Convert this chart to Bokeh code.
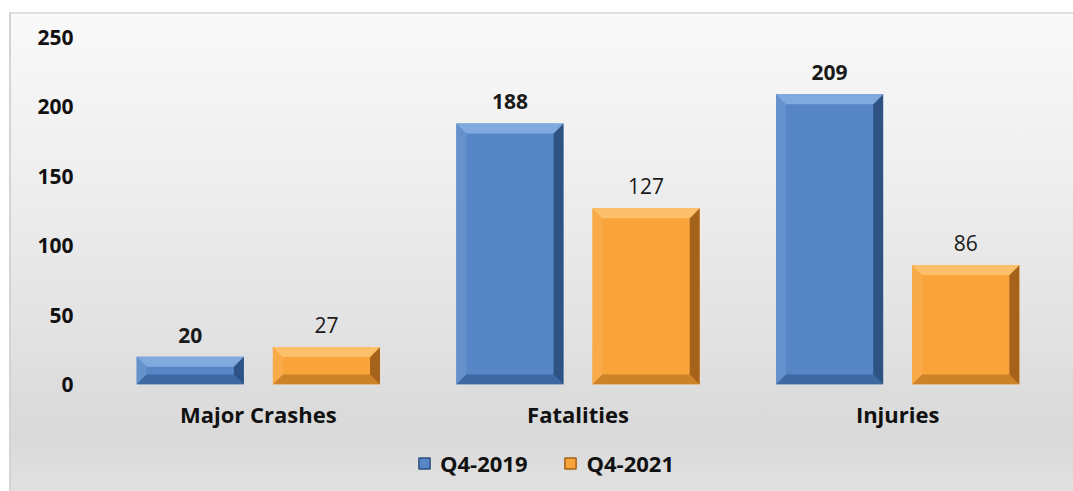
from bokeh.plotting import figure
from bokeh.layouts import column
from bokeh.models import Range1d, FixedTicker, Legend, LegendItem, ColumnDataSource
from bokeh.core.properties import value
from bokeh.embed import file_html
from bokeh.resources import INLINE

# ---- data ----
categories = ["Major Crashes", "Fatalities", "Injuries"]
series_names = ["Q4-2019", "Q4-2021"]
q4_2019 = [20, 188, 209]
q4_2021 = [27, 127, 86]
y_ticks = [0, 50, 100, 150, 200, 250]

# ---- style ----
FONT = "Open Sans"
BAR_W = 0.335
OFFSET = 0.213
BX = 0.031   # bevel width in x units
BY = 7.2     # bevel height in y units
styles = {
    "Q4-2019": dict(face="#5686c6", top="#80a9de", left="#6591cc", right="#2e5283", bottom="#3d68a1", label_weight="bold"),
    "Q4-2021": dict(face="#f9a33b", top="#fcc06b", left="#faab49", right="#a4621a", bottom="#cc8229", label_weight="normal"),
}

W = 1073
p = figure(width=W, height=440, output_backend="svg", toolbar_location=None,
           x_range=Range1d(-0.5, 2.5), y_range=Range1d(0, 265),
           min_border_left=98, min_border_right=16, min_border_top=16, min_border_bottom=56)
p.background_fill_color = None
p.border_fill_color = None
p.outline_line_color = None
p.grid.grid_line_color = None

xs = [0, 1, 2]
for k, (name, vals) in enumerate(zip(series_names, [q4_2019, q4_2021])):
    st = styles[name]
    off = -OFFSET if k == 0 else OFFSET
    xc = [x + off for x in xs]
    v = [float(a) for a in vals]
    src = ColumnDataSource(dict(x=xc, top=v, label=[str(int(a)) for a in v]))
    p.vbar(x="x", top="top", width=BAR_W, bottom=0, source=src,
           fill_color=st["face"], line_color=None)
    top_x, top_y, lx, ly, rx, ry, bx_, by_ = [], [], [], [], [], [], [], []
    for c, h in zip(xc, v):
        a0, a1 = c - BAR_W / 2, c + BAR_W / 2
        top_x.append([a0, a1, a1 - BX, a0 + BX]); top_y.append([h, h, h - BY, h - BY])
        lx.append([a0, a0 + BX, a0 + BX, a0]); ly.append([0, BY, h - BY, h])
        rx.append([a1, a1 - BX, a1 - BX, a1]); ry.append([0, BY, h - BY, h])
        bx_.append([a0, a1, a1 - BX, a0 + BX]); by_.append([0, 0, BY, BY])
    p.patches(lx, ly, fill_color=st["left"], line_color=None)
    p.patches(bx_, by_, fill_color=st["bottom"], line_color=None)
    p.patches(rx, ry, fill_color=st["right"], line_color=None)
    p.patches(top_x, top_y, fill_color=st["top"], line_color=None)
    p.text(x="x", y="top", text="label", source=src, y_offset=-14,
           text_align="center", text_baseline="bottom",
           text_font=value(FONT), text_font_size="21px",
           text_font_style=st["label_weight"], text_color="#1a1a1a")

# axes
p.yaxis.ticker = FixedTicker(ticks=y_ticks)
p.yaxis.axis_line_color = None
p.yaxis.major_tick_line_color = None
p.yaxis.minor_tick_line_color = None
p.yaxis.major_tick_out = 0
p.yaxis.major_label_standoff = 25
p.yaxis.major_label_text_font = FONT
p.yaxis.major_label_text_font_size = "21px"
p.yaxis.major_label_text_font_style = "bold"
p.yaxis.major_label_text_color = "#111111"

p.xaxis.ticker = FixedTicker(ticks=xs)
p.xaxis.major_label_overrides = {i: c for i, c in zip(xs, categories)}
p.xaxis.axis_line_color = None
p.xaxis.major_tick_line_color = None
p.xaxis.minor_tick_line_color = None
p.xaxis.major_tick_out = 0
p.xaxis.major_label_standoff = 14
p.xaxis.major_label_text_font = FONT
p.xaxis.major_label_text_font_size = "22px"
p.xaxis.major_label_text_font_style = "bold"
p.xaxis.major_label_text_color = "#111111"

# legend strip (same series colours; proxy renderers hidden, legend shows them)
lg = figure(width=W, height=51, output_backend="svg", toolbar_location=None,
            x_range=Range1d(0, 1), y_range=Range1d(0, 1),
            min_border=0, min_border_left=0, min_border_right=0, min_border_top=0, min_border_bottom=0)
lg.axis.visible = False
lg.grid.grid_line_color = None
lg.outline_line_color = None
lg.background_fill_color = None
lg.border_fill_color = None
items = []
for name, vals in zip(series_names, [q4_2019, q4_2021]):
    st = styles[name]
    r = lg.vbar(x=[xs[0]], top=[vals[0]], width=0.1, fill_color=st["face"],
                line_color=st["right"], line_width=1.5, visible=False)
    items.append(LegendItem(label=name, renderers=[r]))
legend = Legend(items=items, orientation="horizontal", location=(319, 13),
                background_fill_alpha=0, border_line_color=None,
                inactive_fill_alpha=0,
                label_text_font=FONT, label_text_font_size="22px", label_text_font_style="bold",
                label_text_color="#111111",
                glyph_width=14, glyph_height=14, label_standoff=9, spacing=36,
                margin=0, padding=6)
lg.add_layout(legend)

layout = column(p, lg, spacing=0)
layout.styles = {
    "background": (
        "linear-gradient(#d4d4d4,#d4d4d4) 9px 12px / 2px calc(100% - 12px) no-repeat, "
        "linear-gradient(#e0e0e0,#e0e0e0) 9px 12px / calc(100% - 9px) 2px no-repeat, "
        "linear-gradient(to bottom, #f9f9f9 0%, #efefef 33%, #e4e4e4 62%, #d9d9d9 88%, #e1e1e1 100%) "
        "11px 14px / calc(100% - 11px) calc(100% - 14px) no-repeat, #ffffff"
    ),
}

open("out.html", "w").write(file_html(layout, INLINE))
